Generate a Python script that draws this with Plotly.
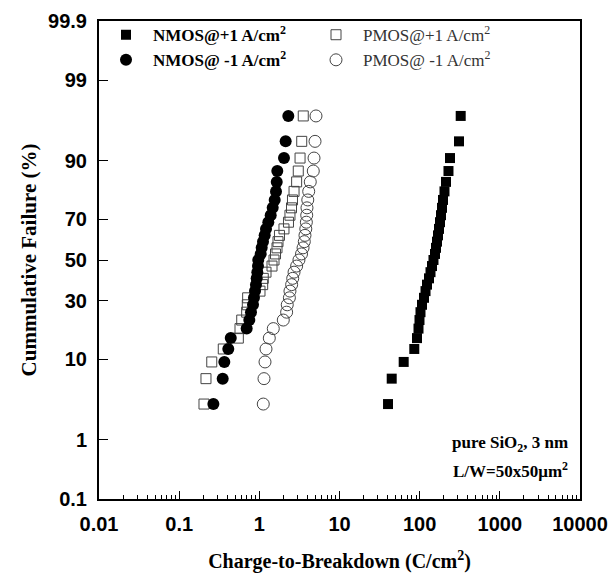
import plotly.graph_objects as go
from statistics import NormalDist

# Cumulative failure plotting positions (%) (31 devices per group)
failure_pct = [3.125, 6.25, 9.375, 12.5, 15.625, 18.75, 21.875, 25.0, 28.125, 31.25,
               34.375, 37.5, 40.625, 43.75, 46.875, 50.0, 53.125, 56.25, 59.375, 62.5,
               65.625, 68.75, 71.875, 75.0, 78.125, 81.25, 84.375, 87.5, 90.625, 93.75, 96.875]

# Charge-to-breakdown values (C/cm^2) for each group
nmos_pos = [40.3, 44.8, 63.2, 85.7, 92.6, 96.7, 99.5, 102.4, 106.9, 113.3,
            118.3, 123.4, 130.7, 136.5, 142.5, 148.7, 155.3, 159.9, 164.5, 169.4,
            174.3, 179.3, 184.5, 189.9, 195.4, 204.0, 213.0, 228.8, 239.0, 309.5, 325.0]
nmos_neg = [0.267, 0.349, 0.366, 0.410, 0.440, 0.695, 0.750, 0.787, 0.834, 0.857,
            0.883, 0.908, 0.927, 0.944, 0.962, 0.970, 1.040, 1.070, 1.111, 1.166,
            1.211, 1.294, 1.386, 1.468, 1.555, 1.614, 1.648, 1.675, 2.03, 2.13, 2.30]
pmos_pos = [0.204, 0.216, 0.255, 0.355, 0.547, 0.574, 0.603, 0.695, 0.708, 0.715,
            1.019, 1.101, 1.120, 1.211, 1.439, 1.524, 1.592, 1.661, 1.710, 1.783,
            2.03, 2.31, 2.41, 2.52, 2.59, 2.71, 2.92, 3.06, 3.22, 3.38, 3.53]
pmos_neg = [1.120, 1.143, 1.177, 1.211, 1.332, 1.493, 1.99, 2.19, 2.23, 2.37,
            2.41, 2.53, 2.61, 2.71, 2.92, 3.12, 3.36, 3.51, 3.64, 3.71,
            3.80, 3.86, 3.90, 3.93, 4.02, 4.13, 4.32, 4.71, 4.81, 4.95, 5.09]

y_ticks_pct = [0.1, 1, 10, 30, 50, 70, 90, 99, 99.9]
y_tick_text = ["0.1", "1", "10", "30", "50", "70", "90", "99", "99.9"]
x_ticks = [0.01, 0.1, 1, 10, 100, 1000, 10000]
x_tick_text = ["0.01", "0.1", "1", "10", "100", "1000", "10000"]

nd = NormalDist()
def probit(p_pct):
    return nd.inv_cdf(p_pct / 100.0)

yvals = [probit(p) for p in failure_pct]

serif = "Liberation Serif, Times New Roman, serif"
sans = "Liberation Sans, Arial, sans-serif"

fig = go.Figure()
fig.add_trace(go.Scatter(x=nmos_pos, y=yvals, mode="markers", name="<b>NMOS@+1 A/cm<sup>2</sup></b>",
                         marker=dict(symbol="square", size=10, color="black", line=dict(width=0)),
                         legendrank=1))
fig.add_trace(go.Scatter(x=pmos_pos, y=yvals, mode="markers",
                         name="<span style='color:#333'>PMOS@+1 A/cm<sup>2</sup></span>",
                         marker=dict(symbol="square-open", size=10, color="#444", line=dict(width=1)),
                         legendrank=2))
fig.add_trace(go.Scatter(x=nmos_neg, y=yvals, mode="markers", name="<b>NMOS@ -1 A/cm<sup>2</sup></b>",
                         marker=dict(symbol="circle", size=12, color="black", line=dict(width=0)),
                         legendrank=3))
fig.add_trace(go.Scatter(x=pmos_neg, y=yvals, mode="markers",
                         name="<span style='color:#333'>PMOS@ -1 A/cm<sup>2</sup></span>",
                         marker=dict(symbol="circle-open", size=12, color="#444", line=dict(width=1)),
                         legendrank=4))

fig.update_layout(
    width=612, height=576,
    margin=dict(l=99, r=32, t=21, b=77, autoexpand=False),
    paper_bgcolor="white", plot_bgcolor="white",
    showlegend=True,
    legend=dict(
        orientation="h", x=0.0, y=1.008, xanchor="left", yanchor="top",
        entrywidth=151, entrywidthmode="pixels", itemwidth=44,
        bgcolor="rgba(0,0,0,0)",
        font=dict(family=serif, size=17, color="black"),
        tracegroupgap=0,
    ),
    xaxis=dict(
        type="log", range=[-2, 4], automargin=False,
        tickvals=x_ticks, ticktext=x_tick_text,
        ticks="inside", ticklen=8, tickwidth=1, tickcolor="black",
        minor=dict(ticks="inside", ticklen=4, tickwidth=1, tickcolor="black", dtick="D1"),
        showline=True, linewidth=2, linecolor="black", mirror=True,
        showgrid=False, zeroline=False,
        tickfont=dict(family=sans, size=20, color="black", weight="bold"),
        ticklabelstandoff=6,
        title=dict(text="<b>Charge-to-Breakdown (C/cm<sup>2</sup>)</b>",
                   font=dict(family=serif, size=20, color="black"), standoff=20),
    ),
    yaxis=dict(
        range=[probit(0.1), probit(99.9)], automargin=False,
        tickvals=[probit(p) for p in y_ticks_pct], ticktext=y_tick_text,
        ticks="inside", ticklen=9, tickwidth=1, tickcolor="black",
        showline=True, linewidth=2, linecolor="black", mirror=True,
        showgrid=False, zeroline=False,
        tickfont=dict(family=sans, size=20, color="black", weight="bold"),
        ticklabelstandoff=6,
        title=dict(text="<b>Cummulative Failure (%)</b>",
                   font=dict(family=serif, size=21, color="black"), standoff=6),
    ),
    annotations=[
        dict(text="<b>pure SiO<sub>2</sub>, 3 nm</b>", xref="paper", yref="paper",
             x=0.98, y=0.115, xanchor="right", yanchor="middle", showarrow=False,
             font=dict(family=serif, size=17, color="black")),
        dict(text="<b>L/W=50x50μm<sup>2</sup></b>", xref="paper", yref="paper",
             x=0.98, y=0.06, xanchor="right", yanchor="middle", showarrow=False,
             font=dict(family=serif, size=17, color="black")),
    ],
)

fig.write_html("out.html", config={"displayModeBar": False},
               post_script="document.body.style.margin='0';")
